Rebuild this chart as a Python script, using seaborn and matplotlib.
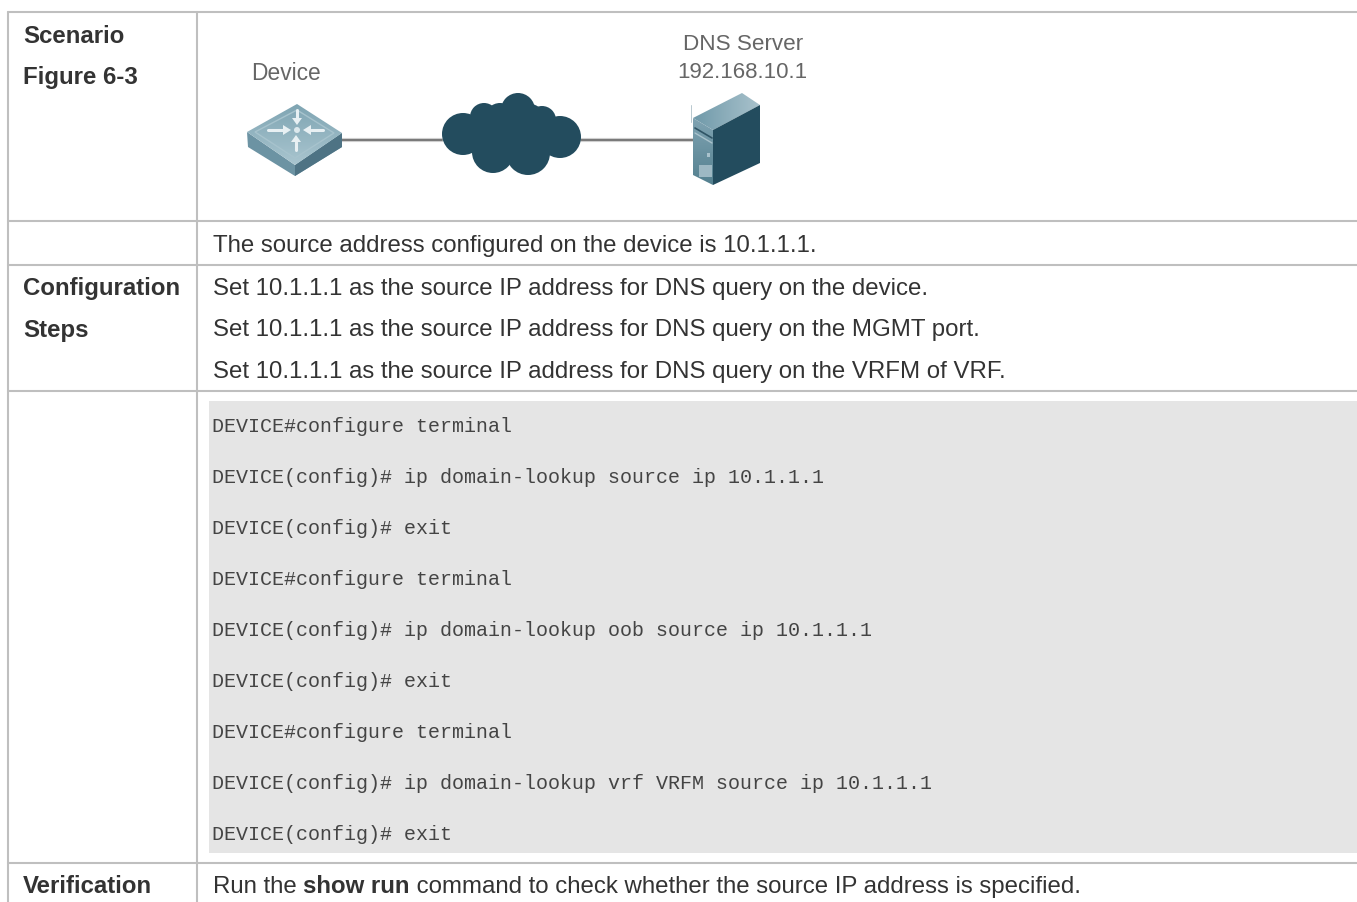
import numpy as np
import matplotlib
matplotlib.use('Agg')
import matplotlib.pyplot as plt
from matplotlib.patches import Polygon, Circle, Rectangle
import seaborn as sns

sns.set_theme(style='white')
plt.rcParams['font.family'] = ['Liberation Sans', 'DejaVu Sans']

# table rules (pixels of the page)
rule_rows = [12, 221, 265, 391, 863]
rule_cols = [8, 197]
page_w, page_h = 1357, 902

head_labels = ['Scenario', 'Figure 6-3', 'Configuration', 'Steps', 'Verification']
head_base = [43, 84, 295, 337, 893]

body_labels = ['The source address configured on the device is 10.1.1.1.',
               'Set 10.1.1.1 as the source IP address for DNS query on the device.',
               'Set 10.1.1.1 as the source IP address for DNS query on the MGMT port.',
               'Set 10.1.1.1 as the source IP address for DNS query on the VRFM of VRF.']
body_base = [252, 295, 336, 378]

code_lines = ['DEVICE#configure terminal',
              'DEVICE(config)# ip domain-lookup source ip 10.1.1.1',
              'DEVICE(config)# exit',
              'DEVICE#configure terminal',
              'DEVICE(config)# ip domain-lookup oob source ip 10.1.1.1',
              'DEVICE(config)# exit',
              'DEVICE#configure terminal',
              'DEVICE(config)# ip domain-lookup vrf VRFM source ip 10.1.1.1',
              'DEVICE(config)# exit']
code_base = [432, 483, 534, 585, 636, 687, 738, 789, 840]

verify_parts = ['Run the ', 'show run', ' command to check whether the source IP address is specified.']
verify_weights = ['normal', 'bold', 'normal']

# cloud lobes: x, y, r
cloud_x = [463, 484, 518, 542, 560, 493, 528, 510, 500, 530, 535]
cloud_y = [134, 117, 110, 120, 137, 152, 153, 135, 118, 118, 135]
cloud_r = [21, 14, 17, 14, 21, 21, 22, 28, 15, 14, 20]

link_x = [[342, 442], [581, 693]]
link_y = [140, 140]

RULE = '#BFBFBF'
TEXT = '#333333'
DARK = '#234C5E'
BODY_SIZE = 17.3

fig = plt.figure(figsize=(13.57, 9.02), dpi=100)
ax = fig.add_axes([0, 0, 1, 1])
ax.set_axis_off()


def line(xs, ys, color=RULE, lw=1.5, z=2):
    sns.lineplot(x=xs, y=ys, ax=ax, color=color, linewidth=lw, estimator=None,
                 sort=False, legend=False, zorder=z)


def grad_poly(pts, c1, c2, vertical=False, z=4):
    pts = np.array(pts)
    g = np.linspace(0, 1, 64)
    g = g[:, None] if vertical else g[None, :]
    rgb1, rgb2 = np.array(matplotlib.colors.to_rgb(c1)), np.array(matplotlib.colors.to_rgb(c2))
    img = rgb1 + (rgb2 - rgb1) * g[..., None]
    ext = [pts[:, 0].min(), pts[:, 0].max(), pts[:, 1].max(), pts[:, 1].min()]
    im = ax.imshow(img, extent=ext, aspect='auto', zorder=z, interpolation='bilinear')
    im.set_clip_path(Polygon(pts, transform=ax.transData))


def text_width(s, **kw):
    # trailing blanks do not count in an extent, so measure between two x
    rend = fig.canvas.get_renderer()
    a = ax.text(0, 0, 'x' + s + 'x', **kw)
    b = ax.text(0, 0, 'xx', **kw)
    w = a.get_window_extent(rend).width - b.get_window_extent(rend).width
    a.remove()
    b.remove()
    return w


# grey code block
ax.add_patch(Rectangle((209, 401), page_w - 209, 452, color='#E5E5E5', lw=0, zorder=1))

for y in rule_rows:
    line([rule_cols[0], page_w], [y, y])
for x in rule_cols:
    line([x, x], [rule_rows[0], page_h])

for s, y in zip(head_labels, head_base):
    ax.text(23, y, s, fontsize=BODY_SIZE, fontweight='bold', color=TEXT, va='baseline', zorder=5)
for s, y in zip(body_labels, body_base):
    ax.text(213, y, s, fontsize=BODY_SIZE, color=TEXT, va='baseline', zorder=5)
for s, y in zip(code_lines, code_base):
    ax.text(212, y, s, fontsize=14.4, family='Liberation Mono', color='#444444', va='baseline', zorder=5)

# links and cloud
for xs in link_x:
    line(xs, link_y, color='#CFCFCF', lw=3, z=2)
    line(xs, link_y, color='#6A6A6A', lw=1.2, z=3)
for cx, cy, r in zip(cloud_x, cloud_y, cloud_r):
    ax.add_patch(Circle((cx, cy), r, color=DARK, lw=0, zorder=4))

# switch
ax.add_patch(Polygon([(247, 132), (295, 165), (342, 133), (342, 147), (295, 176), (248, 147)],
                     color='#6C93A3', lw=0, zorder=3))
ax.add_patch(Polygon([(295, 165), (342, 133), (342, 147), (295, 176)], color='#4E7384', lw=0, zorder=3))
grad_poly([(297, 104), (342, 133), (295, 165), (247, 132)], '#7FA5B3', '#A9C5CF', vertical=True)
ax.add_patch(Polygon([(297, 110), (334, 133), (295, 158), (255, 132)], fill=False,
                     edgecolor='#A7C3CD', lw=1, zorder=5))
line([268, 283], [130, 130], color='#E8F0F3', lw=2.2, z=6)
line([311, 323], [130, 130], color='#E8F0F3', lw=2.2, z=6)
line([297, 297], [110, 118], color='#E8F0F3', lw=2.2, z=6)
line([296, 296], [142, 150], color='#E8F0F3', lw=2.2, z=6)
for tri in [[(283, 125), (283, 135), (291, 130)], [(311, 125), (311, 135), (303, 130)],
            [(292, 118), (302, 118), (297, 125)], [(291, 142), (301, 142), (296, 135)]]:
    ax.add_patch(Polygon(tri, color='#E8F0F3', lw=0, zorder=6))
ax.add_patch(Circle((297, 130), 3, color='#DCE8EC', lw=0, zorder=6))

# server
grad_poly([(693, 118), (742, 93), (760, 105), (713, 130)], '#6F99A9', '#A9C2CC')
grad_poly([(693, 118), (713, 130), (713, 185), (693, 175)], '#7FA3B2', '#54808F', vertical=True)
ax.add_patch(Polygon([(713, 130), (760, 105), (760, 163), (713, 185)], color=DARK, lw=0, zorder=4))
ax.add_patch(Rectangle((699, 165), 13, 12, color='#9DB8C3', lw=0, zorder=5))
ax.add_patch(Rectangle((707, 153), 3, 4, color='#A9C2CC', lw=0, zorder=5))
line([695, 712], [128, 138], color='#2F5465', lw=1.2, z=5)
line([695, 712], [133, 143], color='#A9C2CC', lw=1.0, z=5)
line([691, 691], [105, 122], color='#B8C8CF', lw=0.7, z=5)

ax.text(286, 74, 'Device', fontsize=16.4, color='#666666', ha='center', va='center', zorder=5)
ax.text(743, 45, 'DNS Server', fontsize=16.2, color='#666666', ha='center', va='center', zorder=5)
ax.text(742, 72, '192.168.10.1', fontsize=16.0, color='#666666', ha='center', va='center', zorder=5)

ax.set_xlim(0, page_w)
ax.set_ylim(page_h, 0)

# mixed weight line, each part starts where the last one ended
fig.canvas.draw()
x_now = 213
for s, w in zip(verify_parts, verify_weights):
    ax.text(x_now, 893, s, fontsize=BODY_SIZE, fontweight=w, color=TEXT, va='baseline', zorder=5)
    x_now += text_width(s, fontsize=BODY_SIZE, fontweight=w)

fig.savefig('out.png', dpi=100)
plt.close()
